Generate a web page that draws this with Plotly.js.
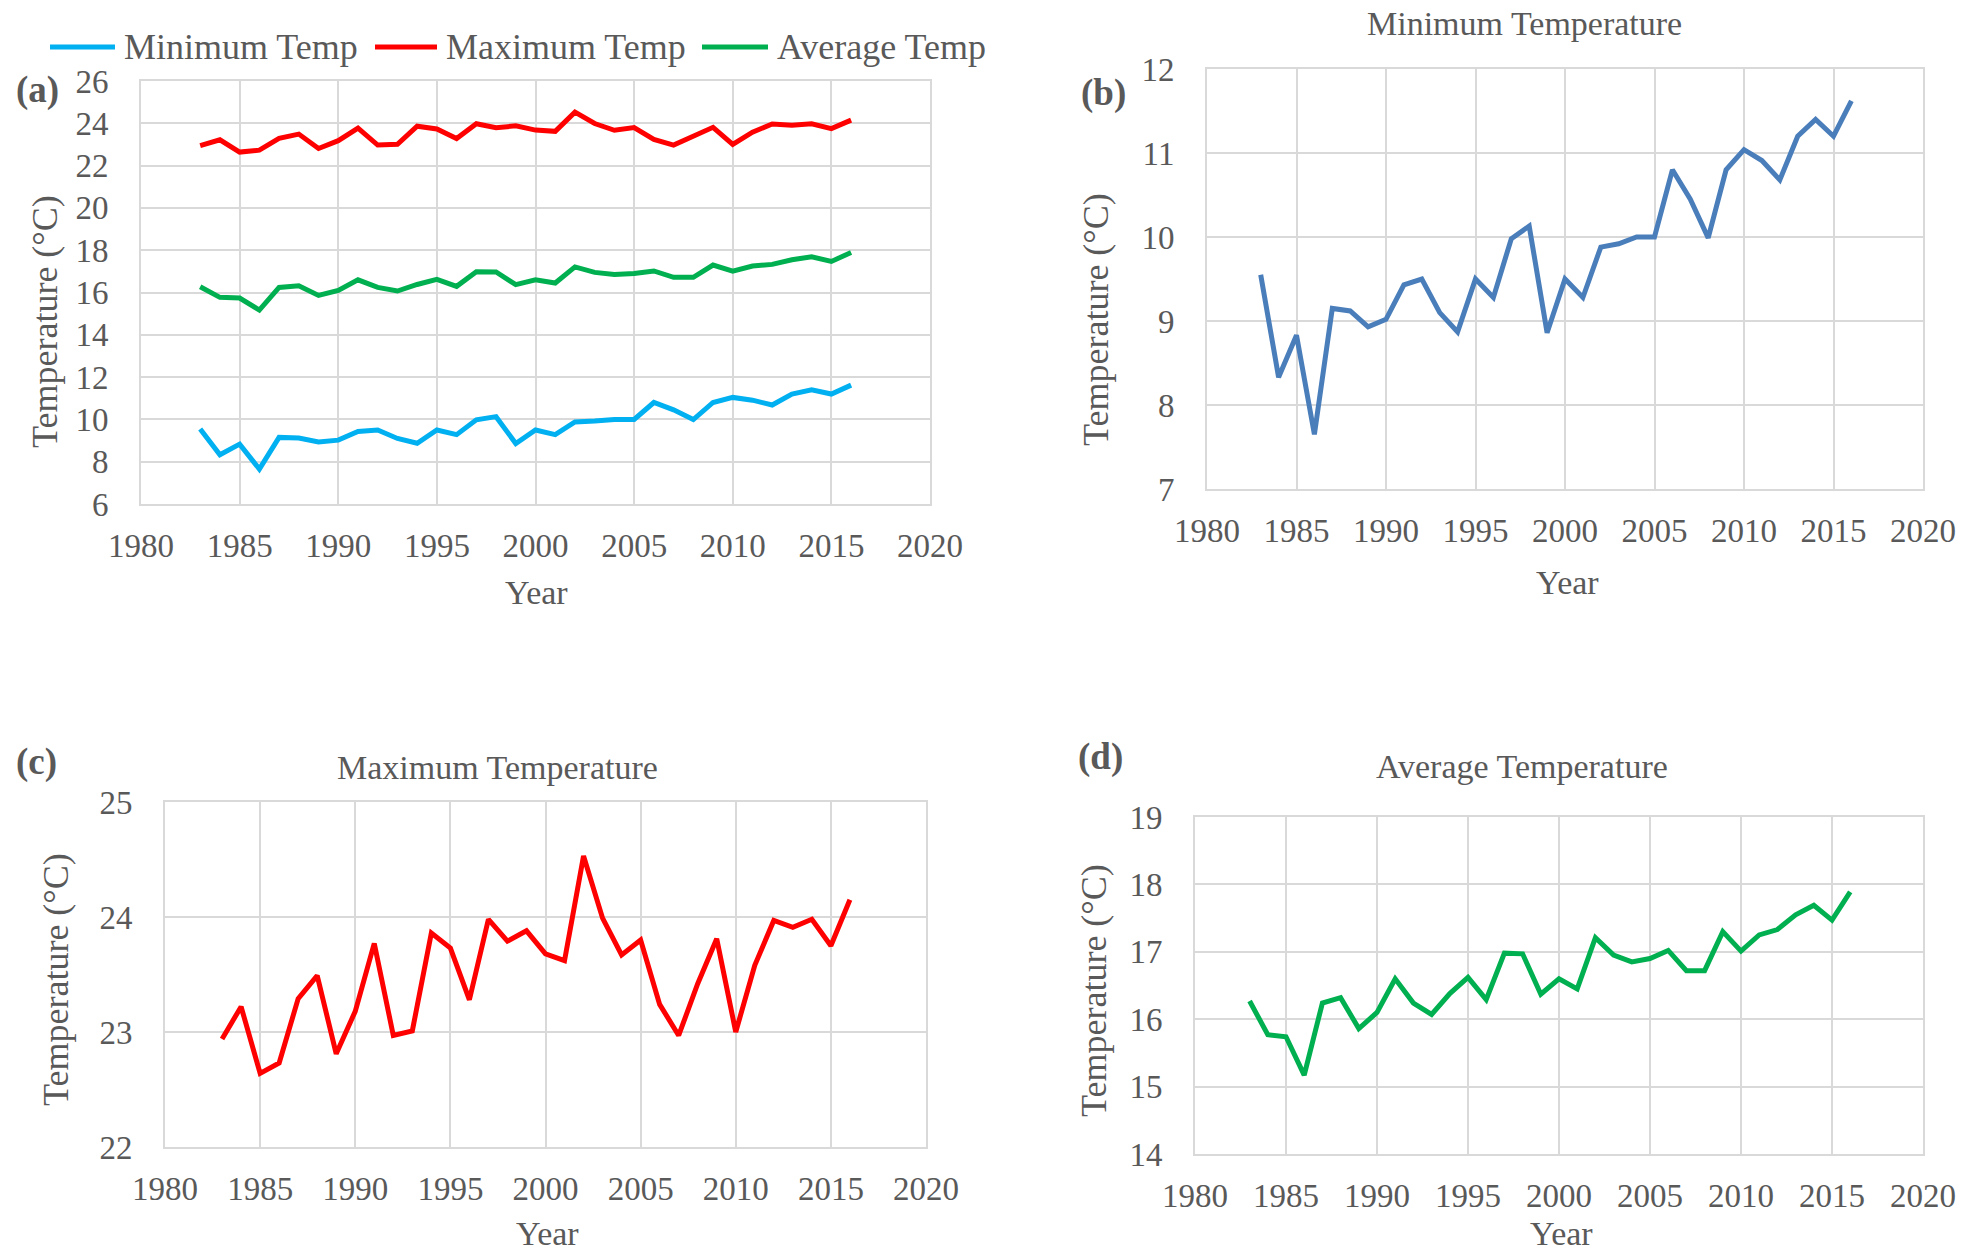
<!DOCTYPE html>
<html>
<head>
<meta charset="utf-8">
<script src="https://cdn.plot.ly/plotly-3.0.1.min.js"></script>
<style>html,body{margin:0;padding:0;background:#fff;}#chart{width:1961px;height:1257px;}</style>
</head>
<body>
<div id="chart"></div>
<script>
// ---- data ----
const years = [1983,1984,1985,1986,1987,1988,1989,1990,1991,1992,1993,1994,1995,1996,1997,1998,1999,2000,2001,2002,2003,2004,2005,2006,2007,2008,2009,2010,2011,2012,2013,2014,2015,2016];
const minTemp = [9.55,8.33,8.83,7.65,9.15,9.12,8.93,9.02,9.43,9.50,9.10,8.87,9.50,9.28,9.98,10.13,8.86,9.50,9.28,9.88,9.92,10.00,10.00,10.80,10.45,9.99,10.80,11.04,10.91,10.68,11.20,11.40,11.20,11.62];
const maxTemp = [22.94,23.22,22.64,22.73,23.29,23.49,22.81,23.18,23.77,22.97,23.01,23.86,23.73,23.28,23.98,23.79,23.88,23.68,23.62,24.53,23.99,23.67,23.80,23.24,22.97,23.42,23.81,23.00,23.58,23.97,23.91,23.98,23.75,24.15];
const avgTemp = [16.27,15.77,15.74,15.17,16.24,16.32,15.86,16.10,16.60,16.24,16.07,16.38,16.62,16.29,16.98,16.97,16.37,16.60,16.45,17.21,16.95,16.85,16.90,17.02,16.72,16.72,17.30,17.01,17.25,17.33,17.55,17.69,17.47,17.89];
const seriesNames = ["Minimum Temp","Maximum Temp","Average Temp"];
const panelTitles = ["Minimum Temperature","Maximum Temperature","Average Temperature"];
const panelLabels = ["(a)","(b)","(c)","(d)"];
const xTitle = "Year";
const yTitle = "Temperature (°C)";

// ---- styling ----
const W = 1961, H = 1257;
const FONT = "Liberation Serif";
const TXT = "#595959";
const GRID = "#d9d9d9";
const cMin = "#00b0f0", cMax = "#ff0000", cAvg = "#00b050", cMinB = "#4a7ebb";
const LW = 5;
const px = x => x / W;
const py = y => 1 - y / H;

function xax(l, r, anchor) {
  return {domain:[px(l), px(r)], range:[1980,2020], tick0:1980, dtick:5, showgrid:true, gridcolor:GRID, gridwidth:2,
    showline:true, linecolor:GRID, linewidth:2, mirror:true, zeroline:false, ticks:"", ticklabelstandoff:11,
    tickfont:{family:FONT, size:33, color:TXT}, anchor:anchor, fixedrange:true};
}
function yax(t, b, range, dtick, anchor) {
  return {domain:[py(b), py(t)], range:range, dtick:dtick, showgrid:true, gridcolor:GRID, gridwidth:2,
    showline:true, linecolor:GRID, linewidth:2, mirror:true, zeroline:false, ticks:"", ticklabelstandoff:24,
    tickfont:{family:FONT, size:33, color:TXT}, anchor:anchor, fixedrange:true};
}

const traces = [
  {x:years, y:minTemp, xaxis:"x", yaxis:"y", mode:"lines", name:seriesNames[0], line:{color:cMin, width:LW}},
  {x:years, y:maxTemp, xaxis:"x", yaxis:"y", mode:"lines", name:seriesNames[1], line:{color:cMax, width:LW}},
  {x:years, y:avgTemp, xaxis:"x", yaxis:"y", mode:"lines", name:seriesNames[2], line:{color:cAvg, width:LW}},
  {x:years, y:minTemp, xaxis:"x2", yaxis:"y2", mode:"lines", name:panelTitles[0], line:{color:cMinB, width:LW}},
  {x:years, y:maxTemp, xaxis:"x3", yaxis:"y3", mode:"lines", name:panelTitles[1], line:{color:cMax, width:LW}},
  {x:years, y:avgTemp, xaxis:"x4", yaxis:"y4", mode:"lines", name:panelTitles[2], line:{color:cAvg, width:LW}}
];

function ann(text, x, y, size, opts) {
  return Object.assign({text:text, x:px(x), y:py(y), xref:"paper", yref:"paper", showarrow:false,
    xanchor:"center", yanchor:"middle", font:{family:FONT, size:size, color:TXT}}, opts || {});
}

const annotations = [
  ann("<b>"+panelLabels[0]+"</b>", 37, 90, 37),
  ann("<b>"+panelLabels[1]+"</b>", 1103, 93, 37),
  ann("<b>"+panelLabels[2]+"</b>", 36, 762, 37),
  ann("<b>"+panelLabels[3]+"</b>", 1100, 757, 37),
  ann(panelTitles[0], 1524, 23, 34),
  ann(panelTitles[1], 497, 767, 34),
  ann(panelTitles[2], 1522, 766, 34),
  ann(yTitle, 45, 322, 36, {textangle:-90}),
  ann(yTitle, 1096, 320, 36, {textangle:-90}),
  ann(yTitle, 56, 980, 36, {textangle:-90}),
  ann(yTitle, 1094, 991, 36, {textangle:-90}),
  ann(xTitle, 536, 592, 34),
  ann(xTitle, 1567, 582, 34),
  ann(xTitle, 547, 1233, 34),
  ann(xTitle, 1561, 1233, 34),
  // legend texts
  ann(seriesNames[0], 122, 47, 36, {xanchor:"left"}),
  ann(seriesNames[1], 444, 47, 36, {xanchor:"left"}),
  ann(seriesNames[2], 775, 47, 36, {xanchor:"left"})
];

const legendLine = (x0, x1, c) => ({type:"line", xref:"paper", yref:"paper", x0:px(x0), x1:px(x1), y0:py(47), y1:py(47),
  line:{color:c, width:LW}});
const shapes = [legendLine(50,115,cMin), legendLine(375,437,cMax), legendLine(702,768,cAvg)];

const layout = {
  width:W, height:H, margin:{l:0,r:0,t:0,b:0}, paper_bgcolor:"#fff", plot_bgcolor:"#fff", showlegend:false,
  font:{family:FONT, color:TXT},
  xaxis: xax(141, 930, "y"),   yaxis: yax(81, 504, [6,26], 2, "x"),
  xaxis2: xax(1207, 1923, "y2"), yaxis2: yax(69, 489, [7,12], 1, "x2"),
  xaxis3: xax(165, 926, "y3"),  yaxis3: yax(802, 1147, [22,25], 1, "x3"),
  xaxis4: xax(1195, 1923, "y4"), yaxis4: yax(817, 1154, [14,19], 1, "x4"),
  annotations:annotations, shapes:shapes
};

Plotly.newPlot("chart", traces, layout, {staticPlot:true, displayModeBar:false});
</script>
</body>
</html>
